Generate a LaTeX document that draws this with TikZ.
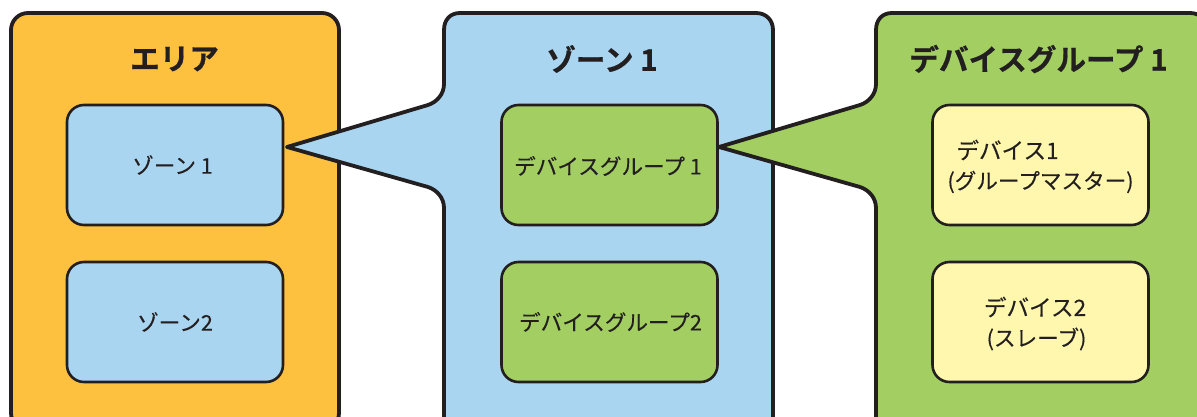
\documentclass[tikz,border=0pt]{standalone}
\usepackage{fontspec}
\setmainfont{Noto Sans CJK JP}
\newfontfamily\labelfont[FakeBold=0.25]{Noto Sans CJK JP}
\newfontfamily\titlefont[FakeBold=0.6]{Noto Sans CJK JP Bold}
\definecolor{ink}{HTML}{231F20}
\definecolor{orangefill}{HTML}{FDC13F}
\definecolor{bluefill}{HTML}{A9D5F1}
\definecolor{greenfill}{HTML}{A2CE62}
\definecolor{yellowfill}{HTML}{FFF7AE}
\tikzset{
  panel/.style={draw=ink,line width=3.8pt,line join=round},
  inbox/.style={draw=ink,line width=2.6pt,rounded corners=17pt,minimum width=216pt,minimum height=120pt,inner sep=0pt},
  titletext/.style={text=ink,inner sep=0pt,font=\titlefont\fontsize{29.6}{32}\selectfont},
  labeltext/.style={text=ink,inner sep=0pt,font=\labelfont\fontsize{21.6}{24}\selectfont},
  devicetext/.style={text=ink,inner sep=0pt,font=\labelfont\fontsize{22.6}{24}\selectfont},
}
\begin{document}
\begin{tikzpicture}[x=1pt,y=-1pt]
\useasboundingbox (0,0) rectangle (1197,417);
\clip (0,0) rectangle (1197,417);
% area panel
\draw[panel,fill=orangefill,rounded corners=17pt] (11,13) rectangle (339,430);
\node[inbox,fill=bluefill] (z1) at (175,165) {};
\node[inbox,fill=bluefill] (z2) at (175,322) {};
% zone panel with tail
\coordinate (tipa) at (287,147);
\coordinate (tipb) at (719,147);
\draw[panel,fill=bluefill] (tipa) -- (428,105) .. controls (437,102) and (444,94) .. (444,84)
  -- (444,30) .. controls (444,20) and (450,13) .. (460,13)
  -- (756,13) .. controls (766,13) and (773,20) .. (773,30)
  -- (773,440) -- (444,440) -- (444,208)
  .. controls (444,198) and (437,190) .. (428,187) -- cycle;
\node[inbox,fill=greenfill] (g1) at (609.5,165) {};
\node[inbox,fill=greenfill] (g2) at (609.5,322) {};
% device group panel with tail
\draw[panel,fill=greenfill] (tipb) -- (860,105) .. controls (869,102) and (876,94) .. (876,84)
  -- (876,30) .. controls (876,20) and (882,13) .. (892,13)
  -- (1190,13) .. controls (1200,13) and (1207,20) .. (1207,30)
  -- (1207,440) -- (876,440) -- (876,208)
  .. controls (876,198) and (869,190) .. (860,187) -- cycle;
\node[inbox,fill=yellowfill] (d1) at (1040.5,165) {};
\node[inbox,fill=yellowfill] (d2) at (1040.5,322) {};
% titles
\node[titletext] (t1) at (174.5,59) {エリア};
\node[titletext] (t2) at (602,59) {ゾーン 1};
\node[titletext] (t3) at (1038.5,59) {デバイスグループ 1};
% labels
\node[labeltext] (l1) at (172.5,165) {ゾーン 1};
\node[labeltext] (l2) at (175,322) {ゾーン2};
\node[labeltext] (l3) at (608,166) {デバイスグループ 1};
\node[labeltext] (l4) at (610.5,322) {デバイスグループ2};
\node[devicetext] (l5) at (1007.5,150) {デバイス1};
\node[labeltext] (l6) at (1040.5,182) {(グループマスター)};
\node[devicetext] (l7) at (1035,307) {デバイス2};
\node[labeltext] (l8) at (1036.5,339) {(スレーブ)};
\end{tikzpicture}
\end{document}
